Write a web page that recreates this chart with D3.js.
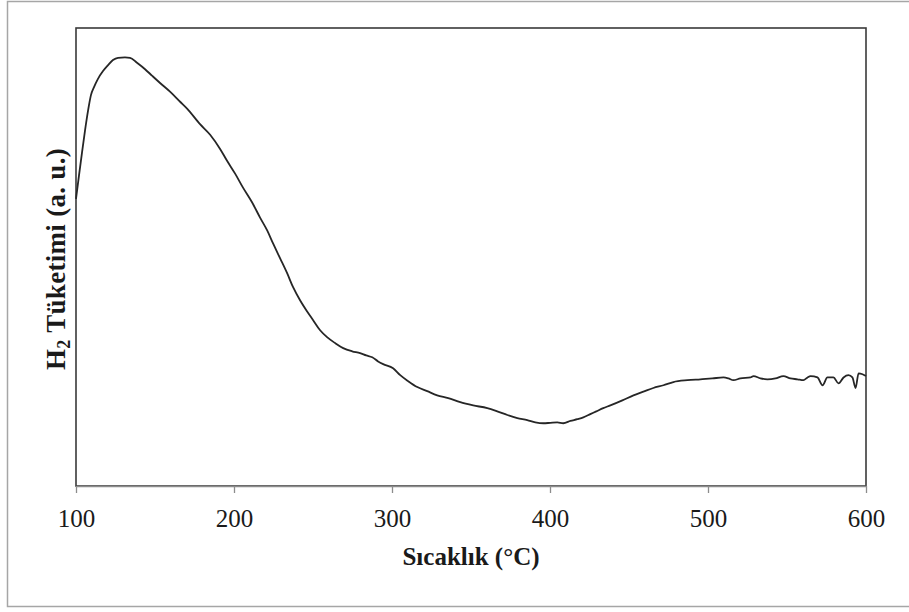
<!DOCTYPE html>
<html>
<head>
<meta charset="utf-8">
<script src="https://cdn.jsdelivr.net/npm/d3@7"></script>
<style>
  html, body { margin: 0; padding: 0; background: #ffffff; }
  svg { display: block; }
</style>
</head>
<body>
<svg id="chart" width="909" height="612"></svg>
<script>
// TPR profile: hydrogen consumption versus temperature
const temperature = [
  100.0, 101.9, 103.8, 105.7, 107.6, 109.5, 111.4, 113.9, 117.1, 120.3,
  123.4, 126.6, 131.0, 134.2, 138.6, 143.7, 148.1, 153.2, 159.5, 165.9,
  170.3, 178.5, 184.9, 191.2, 195.6, 200.7, 205.8, 211.5, 216.5, 221.0,
  224.8, 229.2, 233.7, 237.4, 241.9, 246.3, 250.1, 254.5, 258.9, 264.0,
  269.1, 274.8, 279.8, 283.7, 287.5, 291.2, 294.4, 300.7, 305.2, 310.2,
  316.0, 322.3, 328.6, 335.6, 343.2, 351.4, 360.3, 366.6, 373.0, 379.3,
  385.6, 390.7, 395.8, 400.2, 404.6, 408.4, 412.9, 417.3, 421.1, 425.5,
  429.3, 433.7, 438.2, 445.8, 452.8, 459.1, 465.4, 471.8, 478.1, 487.0,
  495.2, 502.8, 509.8, 512.9, 516.1, 520.5, 526.9, 528.8, 533.2, 537.6,
  542.7, 547.7, 552.2, 556.6, 560.4, 563.0, 564.9, 569.3, 572.5, 575.6,
  579.4, 582.6, 585.8, 588.9, 591.4, 593.4, 595.3, 597.8, 600.0
];
const consumption = [
  62.7, 67.8, 72.8, 77.6, 81.9, 85.4, 87.1, 88.9, 90.6, 91.9,
  93.0, 93.5, 93.6, 93.5, 92.4, 91.0, 89.6, 88.0, 86.1, 83.9,
  82.4, 79.0, 76.7, 73.6, 71.0, 68.2, 65.1, 61.9, 58.6, 55.8,
  52.9, 49.7, 46.4, 43.4, 40.5, 38.1, 36.2, 34.0, 32.5, 31.2,
  30.1, 29.4, 29.0, 28.5, 28.1, 27.2, 26.6, 25.7, 24.2, 22.9,
  21.6, 20.7, 19.8, 19.2, 18.3, 17.6, 17.0, 16.3, 15.5, 14.8,
  14.4, 13.9, 13.7, 13.8, 13.9, 13.7, 14.2, 14.6, 15.0, 15.7,
  16.3, 17.0, 17.6, 18.7, 19.8, 20.6, 21.4, 22.0, 22.7, 23.1,
  23.3, 23.5, 23.7, 23.5, 23.1, 23.5, 23.7, 24.0, 23.5, 23.3,
  23.5, 24.0, 23.5, 23.3, 23.1, 23.7, 24.0, 23.7, 22.0, 23.7,
  23.7, 22.4, 23.7, 24.2, 23.7, 21.4, 24.6, 24.4, 24.0
];
const xTicks = [100, 200, 300, 400, 500, 600];
const xTitle = "Sıcaklık (°C)";
const yTitleMain = "H";
const yTitleSub = "2";
const yTitleRest = " Tüketimi (a. u.)";

const svg = d3.select("#chart");
const plot = { left: 76, right: 866, top: 28, bottom: 486 };
const serif = "'Liberation Serif', 'Times New Roman', serif";

// Outer chart-area border
svg.append("rect")
  .attr("x", 7.5).attr("y", 1.5)
  .attr("width", 912).attr("height", 605)
  .attr("fill", "none")
  .attr("stroke", "#a6a6a6")
  .attr("stroke-width", 1.5);

const x = d3.scaleLinear().domain([100, 600]).range([plot.left, plot.right]);
const y = d3.scaleLinear().domain([0, 100]).range([plot.bottom, plot.top]);

// Plot frame
svg.append("rect")
  .attr("x", plot.left).attr("y", plot.top)
  .attr("width", plot.right - plot.left)
  .attr("height", plot.bottom - plot.top)
  .attr("fill", "none")
  .attr("stroke", "#3a3a3a")
  .attr("stroke-width", 1.6);

// Bottom axis
const xAxis = d3.axisBottom(x)
  .tickValues(xTicks)
  .tickSize(7)
  .tickSizeOuter(0)
  .tickPadding(16)
  .tickFormat(d3.format("d"));

const gx = svg.append("g")
  .attr("transform", `translate(0,${plot.bottom})`)
  .call(xAxis);
gx.select(".domain").attr("stroke", "#8c8c8c").attr("stroke-width", 1.6);
gx.selectAll(".tick line").attr("stroke", "#8c8c8c").attr("stroke-width", 1.3);
gx.selectAll(".tick text")
  .attr("fill", "#1a1a1a")
  .style("font-family", serif)
  .style("font-size", "25px");

// Curve
const line = d3.line()
  .x((d, i) => x(temperature[i]))
  .y(d => y(d))
  .curve(d3.curveMonotoneX);

svg.append("path")
  .datum(consumption)
  .attr("d", line)
  .attr("fill", "none")
  .attr("stroke", "#262626")
  .attr("stroke-width", 1.8)
  .attr("stroke-linejoin", "round");

// Axis titles
svg.append("text")
  .attr("x", (plot.left + plot.right) / 2)
  .attr("y", 565)
  .attr("text-anchor", "middle")
  .attr("fill", "#1a1a1a")
  .style("font-family", serif)
  .style("font-size", "25px")
  .style("font-weight", "bold")
  .text(xTitle);

const yt = svg.append("text")
  .attr("transform", `translate(65,${(plot.top + plot.bottom) / 2 + 2}) rotate(-90)`)
  .attr("text-anchor", "middle")
  .attr("fill", "#1a1a1a")
  .style("font-family", serif)
  .style("font-size", "27px")
  .style("font-weight", "bold")
  .style("letter-spacing", "0.3px");
yt.append("tspan").text(yTitleMain);
yt.append("tspan").attr("dy", 5).style("font-size", "18px").text(yTitleSub);
yt.append("tspan").attr("dy", -5).text(yTitleRest);
</script>
</body>
</html>
